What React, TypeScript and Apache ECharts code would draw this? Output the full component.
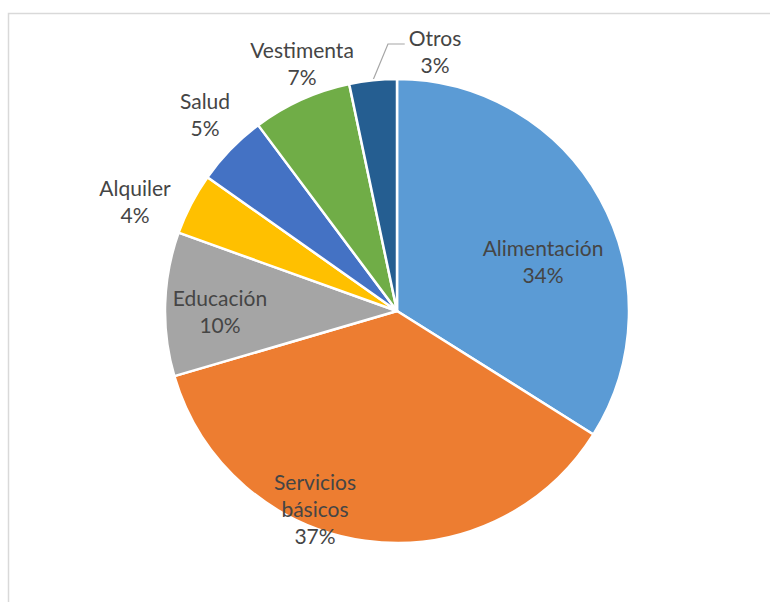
import React, { useEffect, useRef } from "react";
import * as echarts from "echarts";

const categories = ["Alimentación", "Servicios básicos", "Educación", "Alquiler", "Salud", "Vestimenta", "Otros"];
const values = [33.9, 36.5, 10.0, 4.3, 5.0, 6.9, 3.3];
const colors = ["#5B9BD5", "#ED7D31", "#A5A5A5", "#FFC000", "#4472C4", "#70AD47", "#255E91"];

// label block centres (layout only)
const labelPos: Record<string, [number, number]> = {
  "Alimentación": [543, 261],
  "Servicios básicos": [315, 508],
  "Educación": [220, 311],
  "Alquiler": [135, 201],
  "Salud": [205, 114],
  "Vestimenta": [302, 63],
  "Otros": [435, 51],
};

export default function App() {
  const ref = useRef<HTMLDivElement>(null);
  useEffect(() => {
    if (!ref.current) return;
    const chart = echarts.init(ref.current, null, { renderer: "svg" });
    chart.setOption({
      animation: false,
      backgroundColor: "#ffffff",
      graphic: [
        {
          type: "rect",
          shape: { x: 8.5, y: 13.5, width: 900, height: 900 },
          style: { fill: "none", stroke: "#d9d9d9", lineWidth: 1.5 },
          silent: true,
        },
      ],
      series: [
        {
          type: "pie",
          center: [397, 311],
          radius: 232,
          startAngle: 90,
          clockwise: true,
          avoidLabelOverlap: false,
          itemStyle: { borderColor: "#ffffff", borderWidth: 2.5 },
          label: {
            show: true,
            position: "outside",
            color: "#454545",
            fontFamily: "Lato",
            fontSize: 21,
            lineHeight: 27,
            align: "center",
            formatter: (p: any) => `${p.name.split(" ").join("\n")}\n${Math.round(p.percent)}%`,
          },
          labelLine: { show: false },
          labelLayout: (p: any) => {
            const name = categories[p.dataIndex];
            const pos = labelPos[name];
            const res: any = { x: pos[0], y: pos[1], align: "center", verticalAlign: "middle" };
            if (name === "Otros" && p.labelLinePoints) {
              const a = p.labelLinePoints[0];
              const left = pos[0] - p.labelRect.width / 2 - 4;
              res.labelLinePoints = [a, [a[0] + 15, 44], [left, 44]];
            }
            return res;
          },
          data: categories.map((c, i) => ({
            name: c,
            value: values[i],
            itemStyle: { color: colors[i] },
            labelLine:
              c === "Otros"
                ? { show: true, lineStyle: { color: "#a6a6a6", width: 1.2 } }
                : { show: false },
          })),
        },
      ],
    });
    return () => chart.dispose();
  }, []);
  return <div ref={ref} style={{ position: "fixed", left: 0, top: 0, width: 770, height: 602 }} />;
}
